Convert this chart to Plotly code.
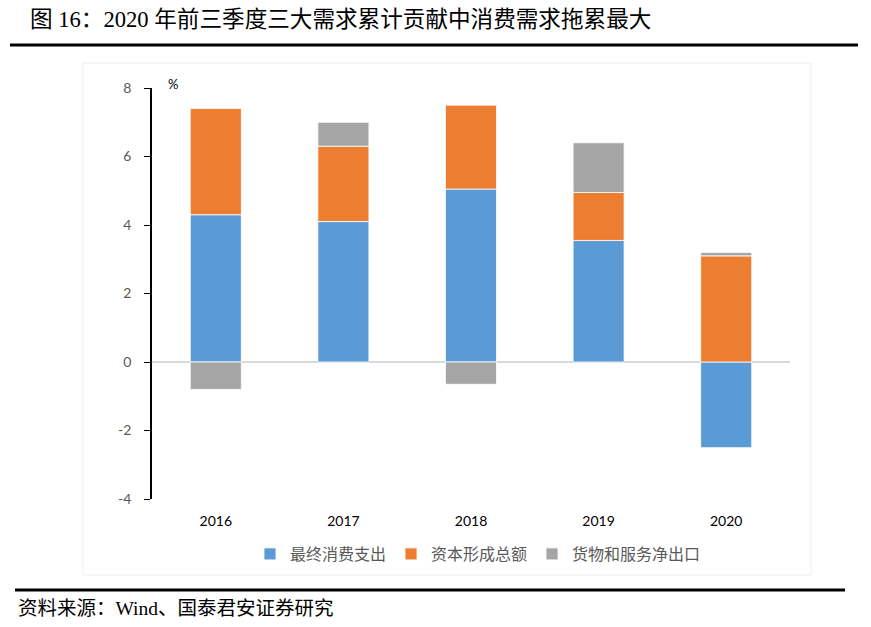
import plotly.graph_objects as go

years = ["2016", "2017", "2018", "2019", "2020"]
consumption = [4.3, 4.1, 5.05, 3.55, -2.5]
capital = [3.1, 2.2, 2.45, 1.4, 3.1]
net_exports = [-0.8, 0.7, -0.65, 1.45, 0.1]

y_tick_vals = [-4, -2, 0, 2, 4, 6, 8]
y_tick_text = ["-4", "-2", "0", "2", "4", "6", "8"]

names = ["最终消费支出", "资本形成总额", "货物和服务净出口"]
colors = ["#5b9bd5", "#ed7d31", "#a5a5a5"]

fig = go.Figure()
for name, vals, col in zip(names, [consumption, capital, net_exports], colors):
    fig.add_trace(go.Bar(x=years, y=vals, name=name,
                         marker=dict(color=col, line=dict(color="#ffffff", width=0.8))))

W, H = 871, 627
L, R, T, B = 152, 81, 88, 128
PW, PH = W - L - R, H - T - B


def px(x):
    return (x - L) / PW


def py(y):
    return (H - B - y) / PH


fig.update_layout(
    width=W, height=H,
    barmode="relative",
    bargap=0.6,
    plot_bgcolor="white", paper_bgcolor="white",
    margin=dict(l=L, r=R, t=T, b=B),
    font=dict(family="Lato, Noto Sans CJK SC, sans-serif", size=14, color="#595959"),
    xaxis=dict(showline=False, ticks="", tickfont=dict(color="#000000", size=14),
               showgrid=False, zeroline=False, ticklabelstandoff=12),
    yaxis=dict(range=[-4, 8], tickvals=y_tick_vals, ticktext=y_tick_text,
               showline=True, linecolor="#000000", linewidth=1.5,
               ticks="outside", ticklen=6, tickcolor="#000000", showgrid=False,
               zeroline=True, zerolinecolor="#d9d9d9", zerolinewidth=1.5,
               ticklabelstandoff=10,
               tickfont=dict(color="#595959", size=14)),
    legend=dict(orientation="h", x=px(250), xanchor="left", y=py(537), yanchor="top",
                font=dict(size=16, color="#595959", family="Noto Sans CJK SC, sans-serif"),
                itemwidth=30, tracegroupgap=0),
    showlegend=True,
    shapes=[
        dict(type="rect", xref="paper", yref="paper",
             x0=px(83), x1=px(811), y0=py(575), y1=py(63),
             line=dict(color="#eeeeee", width=1), fillcolor="rgba(0,0,0,0)", layer="below"),
        dict(type="line", xref="paper", yref="paper",
             x0=px(10), x1=px(858), y0=py(45), y1=py(45),
             line=dict(color="#000000", width=3)),
        dict(type="line", xref="paper", yref="paper",
             x0=px(15), x1=px(845), y0=py(590), y1=py(590),
             line=dict(color="#000000", width=3)),
    ],
    annotations=[
        dict(text="图 16：2020 年前三季度三大需求累计贡献中消费需求拖累最大",
             xref="paper", yref="paper", x=px(28), y=py(20),
             xanchor="left", yanchor="middle", showarrow=False,
             font=dict(family="Liberation Serif, Noto Sans CJK SC, serif", size=22.6, color="#000000")),
        dict(text="%", xref="paper", yref="paper", x=px(166), y=py(84),
             xanchor="left", yanchor="middle", showarrow=False,
             font=dict(size=13, color="#000000")),
        dict(text="资料来源：Wind、国泰君安证券研究",
             xref="paper", yref="paper", x=px(16), y=py(608),
             xanchor="left", yanchor="middle", showarrow=False,
             font=dict(family="Liberation Serif, Noto Sans CJK SC, serif", size=19.5, color="#000000")),
    ],
)

fig.write_html("out.html", config={"displayModeBar": False},
               post_script="document.body.style.margin='0';document.body.style.padding='0';")
